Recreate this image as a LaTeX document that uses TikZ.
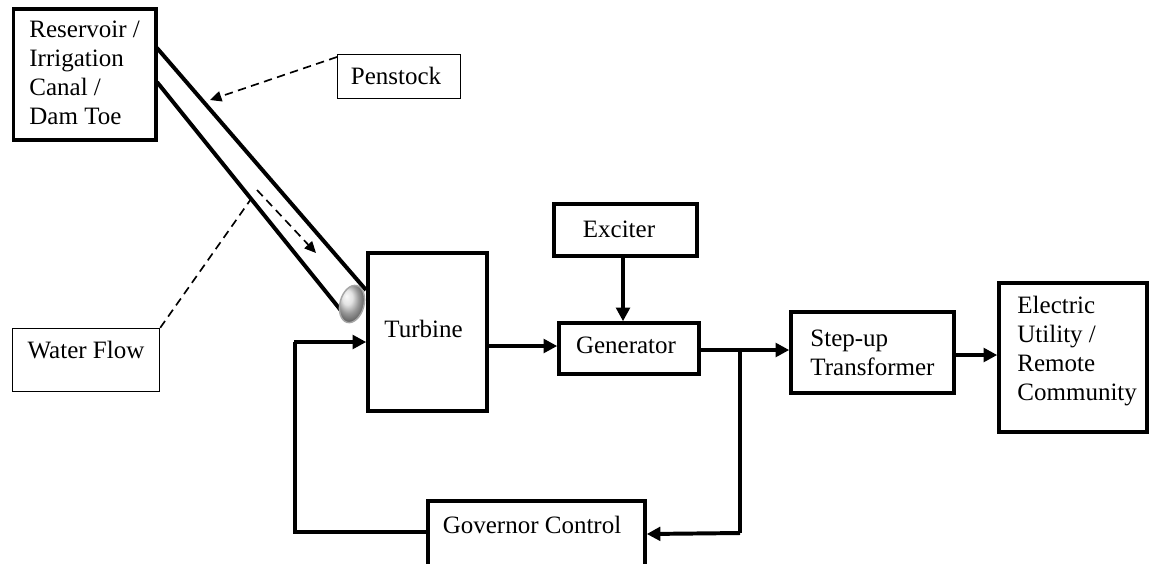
\documentclass[tikz,border=0pt]{standalone}
\usepackage{fontspec}
\setmainfont{Liberation Serif}
\usetikzlibrary{arrows.meta,fit}
\begin{document}
\begin{tikzpicture}[x=0.48pt,y=-0.48pt,
  font=\fontsize{12}{13.8}\selectfont,
  thickbox/.style={draw, line width=1.7pt, inner sep=0pt},
  thinbox/.style={draw, line width=0.7pt, inner sep=0pt},
  arr/.style={line width=1.9pt, -{Triangle[length=6.5pt,width=6.5pt]}},
  link/.style={line width=1.9pt},
  pipe/.style={line width=1.9pt},
  dasharr/.style={line width=0.8pt, dash pattern=on 4pt off 2.6pt, -{Triangle[length=5.5pt,width=5pt]}},
  dashline/.style={line width=0.8pt, dash pattern=on 4pt off 2.6pt},
  lbl/.style={inner sep=0pt, anchor=base},
  mlbl/.style={inner sep=0pt, align=left, anchor=base west}]
\useasboundingbox (0,0) rectangle (1149,563);
% corner coordinates
\coordinate (r1) at (13.5,9);   \coordinate (r2) at (156,140);
\coordinate (p1) at (337.5,54.5); \coordinate (p2) at (460.5,98.5);
\coordinate (w1) at (12.5,328.5); \coordinate (w2) at (159.5,391.5);
\coordinate (t1) at (368,253);  \coordinate (t2) at (487,411);
\coordinate (e1) at (554,204);  \coordinate (e2) at (697,256);
\coordinate (g1) at (559,323);  \coordinate (g2) at (699,374);
\coordinate (s1) at (791,312);  \coordinate (s2) at (954,393);
\coordinate (u1) at (999,283);  \coordinate (u2) at (1147,432);
\coordinate (c1) at (428,501);  \coordinate (c2) at (645,571);
% boxes
\node[thickbox, fit=(r1)(r2)] (res) {};
\node[mlbl] at (29,124) {Reservoir /\\Irrigation\\Canal /\\Dam Toe};
\node[thinbox, fit=(p1)(p2)] (pen) {};
\node[lbl] at (396,84) {Penstock};
\node[thinbox, fit=(w1)(w2)] (wf) {};
\node[lbl] at (86,358) {Water Flow};
\node[thickbox, fit=(t1)(t2)] (tur) {};
\node[lbl] at (423.5,337) {Turbine};
\node[thickbox, fit=(e1)(e2)] (exc) {};
\node[lbl] at (619,237) {Exciter};
\node[thickbox, fit=(g1)(g2)] (gen) {};
\node[lbl] at (626,353) {Generator};
\node[thickbox, fit=(s1)(s2)] (stp) {};
\node[mlbl] at (810,375) {Step-up\\Transformer};
\node[thickbox, fit=(u1)(u2)] (utl) {};
\node[mlbl] at (1017,400) {Electric\\Utility /\\Remote\\Community};
\node[thickbox, fit=(c1)(c2)] (gov) {};
\node[lbl] at (532,533) {Governor Control};
% penstock pipe
\coordinate (pu1) at (157,48);  \coordinate (pu2) at (366,290);
\coordinate (pl1) at (157,82);  \coordinate (pl2) at (343,313);
\draw[pipe] (pu1) -- (pu2);
\draw[pipe] (pl1) -- (pl2);
\shade[ball color=gray!30, draw=gray!70, line width=0.7pt, rotate around={-15:(352,304)}] (352,304) ellipse [x radius=12, y radius=19];
% dashed annotations
\coordinate (ptip) at (210,100);
\coordinate (ps) at (337,57);
\draw[dasharr] (ps) -- (ptip);
\coordinate (fa) at (257,190); \coordinate (fb) at (316,253);
\draw[dasharr] (fa) -- (fb);
\coordinate (wfe) at (251,199);
\draw[dashline] (wf.north east) -- (wfe);
% connectors
\draw[arr] (exc.south -| 623,0) -- (gen.north -| 623,0);
\draw[arr] (tur.east |- 0,346) -- (gen.west |- 0,346);
\coordinate (j) at (740,350);
\draw[arr] (gen.east |- j) -- (stp.west |- j);
\draw[arr] (stp.east |- 0,355) -- (utl.west |- 0,355);
\draw[link] (j) -- (740,533);
\draw[arr] (740,533) -- (gov.east |- 0,534);
\coordinate (fbk) at (295,532);
\draw[link] (gov.west |- fbk) -- (fbk) -- (295,342);
\draw[arr] (294.05,342) -- (tur.west |- 0,342);
\end{tikzpicture}
\end{document}
